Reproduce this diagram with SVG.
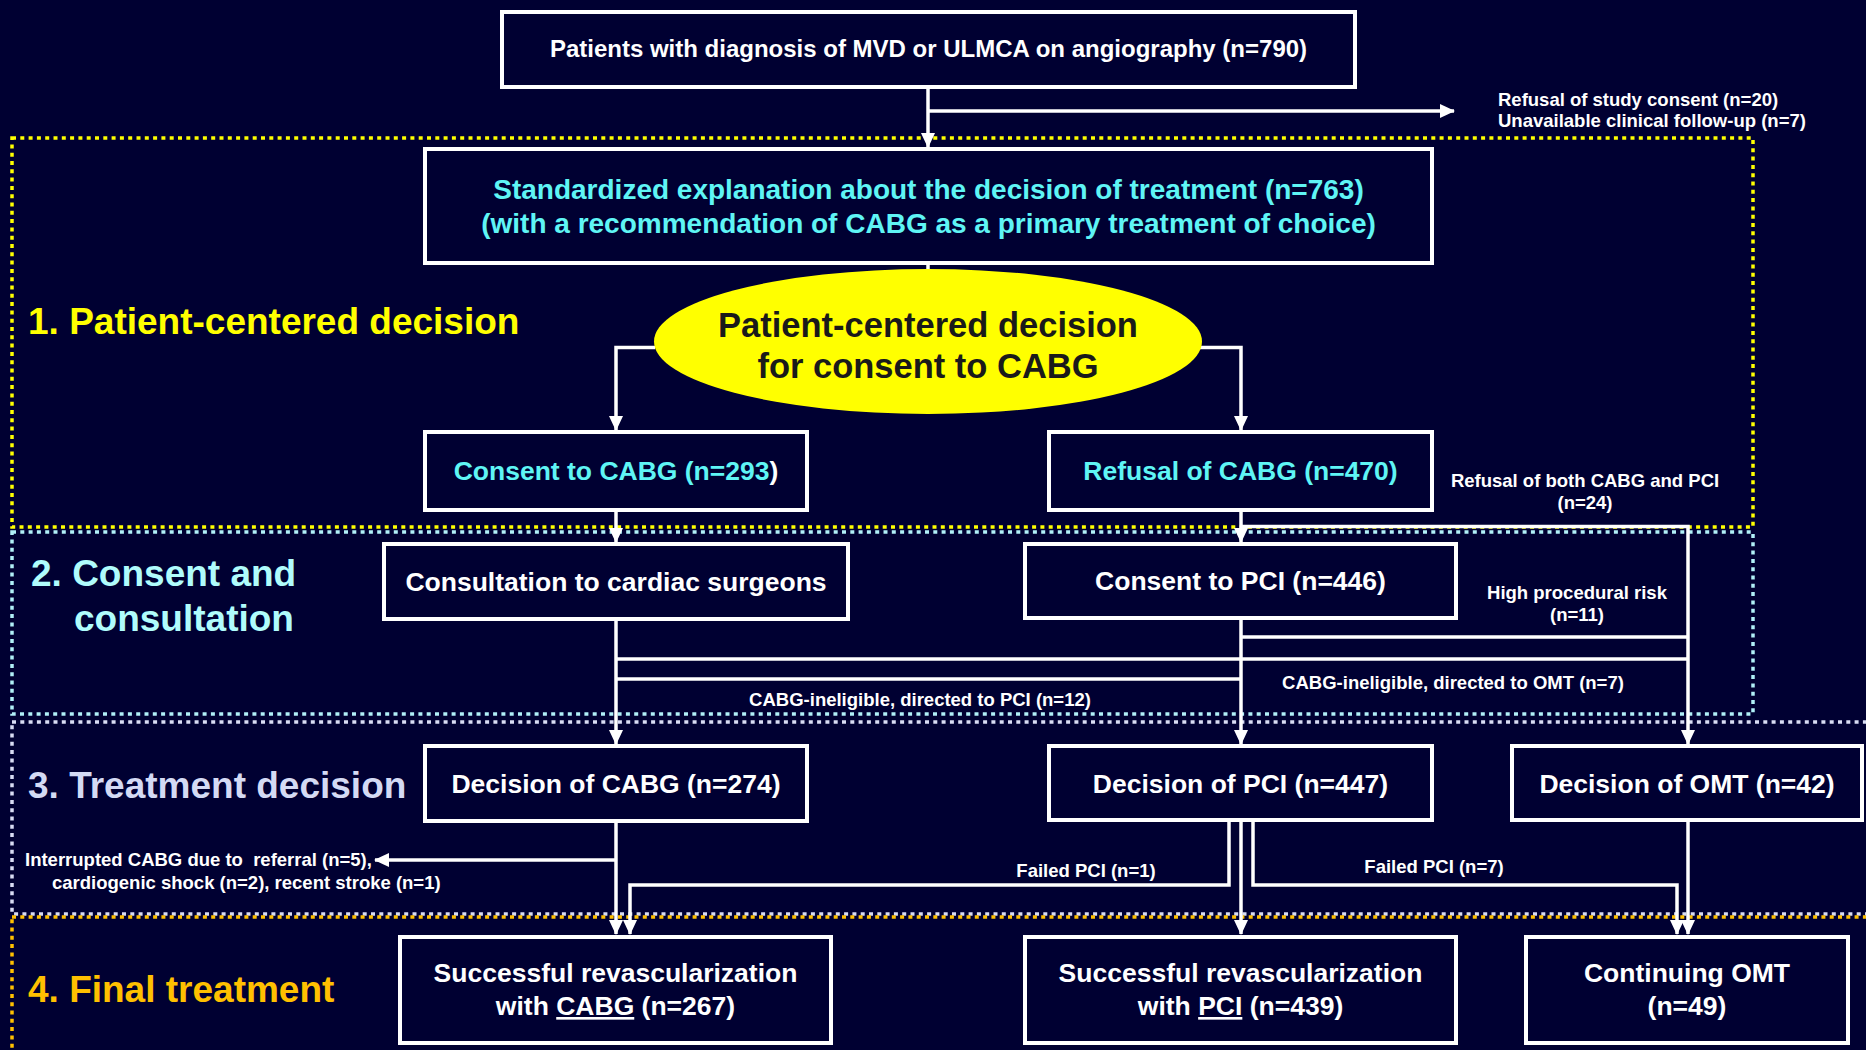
<svg xmlns="http://www.w3.org/2000/svg" width="1866" height="1050" viewBox="0 0 1866 1050">
<style>
text{font-family:"Liberation Sans",Arial,sans-serif;font-weight:bold}
.box{fill:#000032;stroke:#ffffff;stroke-width:4}
.t{fill:#ffffff;font-size:26.5px;text-anchor:middle}
.c{fill:#5ff5f5;font-size:26.5px;text-anchor:middle}
.s{fill:#ffffff;font-size:18.5px}
.sm{fill:#ffffff;font-size:18.5px;text-anchor:middle}
.lab{font-size:37px}
.conn{fill:none;stroke:#ffffff;stroke-width:3.5}
.reg{fill:none;stroke-width:3.5;stroke-dasharray:4 4.3}
</style>
<defs>
<marker id="ah" markerUnits="userSpaceOnUse" markerWidth="15" markerHeight="14" viewBox="0 0 15 14" refX="14" refY="7" orient="auto">
<path d="M0,0 L15,7 L0,14 Z" fill="#ffffff"/>
</marker>
</defs>
<rect x="0" y="0" width="1866" height="1050" fill="#000032"/>

<g id="regions">
<rect class="reg" x="12" y="138" width="1741" height="389" stroke="#ffff00"/>
<rect class="reg" x="12" y="532" width="1741" height="182" stroke="#b0f0f8"/>
<rect class="reg" x="12" y="722" width="1870" height="192" stroke="#d8dcf4"/>
<rect class="reg" x="12" y="917" width="1870" height="150" stroke="#ffc000"/>
</g>

<g id="stage-labels">
<text class="lab" x="28" y="334" fill="#ffff00">1. Patient-centered decision</text>
<text class="lab" x="31" y="586" fill="#b0fcfc">2. Consent and</text>
<text class="lab" x="74" y="631" fill="#b0fcfc">consultation</text>
<text class="lab" x="28" y="798" fill="#d4daf4">3. Treatment decision</text>
<text class="lab" x="28" y="1002" fill="#ffc000">4. Final treatment</text>
</g>

<g id="connectors">
<path class="conn" d="M928,86 V147" marker-end="url(#ah)"/>
<path class="conn" d="M928,111 H1454" marker-end="url(#ah)"/>
<path class="conn" d="M928,263 V270"/>
<path class="conn" d="M655,347.5 H616 V430" marker-end="url(#ah)"/>
<path class="conn" d="M1200,347.5 H1241 V430" marker-end="url(#ah)"/>
<path class="conn" d="M616,510 V542" marker-end="url(#ah)"/>
<path class="conn" d="M1241,510 V542" marker-end="url(#ah)"/>
<path class="conn" d="M1241,526.5 H1688 V744" marker-end="url(#ah)"/>
<path class="conn" d="M616,619 V744" marker-end="url(#ah)"/>
<path class="conn" d="M1241,618 V744" marker-end="url(#ah)"/>
<path class="conn" d="M1241,637 H1688"/>
<path class="conn" d="M616,659 H1688"/>
<path class="conn" d="M616,679 H1241"/>
<path class="conn" d="M616,821 V934" marker-end="url(#ah)"/>
<path class="conn" d="M616,860 H375" marker-end="url(#ah)"/>
<path class="conn" d="M1229,820 V885 H630 V934" marker-end="url(#ah)"/>
<path class="conn" d="M1241,820 V934" marker-end="url(#ah)"/>
<path class="conn" d="M1253,820 V885 H1677 V934" marker-end="url(#ah)"/>
<path class="conn" d="M1688,820 V934" marker-end="url(#ah)"/>
</g>

<g id="edge-labels">
<text class="s" x="1498" y="106">Refusal of study consent (n=20)</text>
<text class="s" x="1498" y="127">Unavailable clinical follow-up (n=7)</text>
<text class="sm" x="1585" y="487">Refusal of both CABG and PCI</text>
<text class="sm" x="1585" y="509">(n=24)</text>
<text class="sm" x="1577" y="599">High procedural risk</text>
<text class="sm" x="1577" y="621">(n=11)</text>
<text class="sm" x="1453" y="689">CABG-ineligible, directed to OMT (n=7)</text>
<text class="sm" x="920" y="706">CABG-ineligible, directed to PCI (n=12)</text>
<text class="s" x="25" y="866" xml:space="preserve">Interrupted CABG due to  referral (n=5),</text>
<text class="s" x="52" y="889">cardiogenic shock (n=2), recent stroke (n=1)</text>
<text class="sm" x="1086" y="877">Failed PCI (n=1)</text>
<text class="sm" x="1434" y="873">Failed PCI (n=7)</text>
</g>

<g id="n-patients">
<rect class="box" x="502" y="12" width="853" height="75"/>
<text class="t" x="928.5" y="57" style="font-size:24px">Patients with diagnosis of MVD or ULMCA on angiography (n=790)</text>
</g>

<g id="n-explanation">
<rect class="box" x="425" y="149" width="1007" height="114"/>
<text class="c" x="928.5" y="199" style="font-size:28px">Standardized explanation about the decision of treatment (n=763)</text>
<text class="c" x="928.5" y="233" style="font-size:28px">(with a recommendation of CABG as a primary treatment of choice)</text>
</g>

<g id="n-decision">
<ellipse cx="928" cy="341.5" rx="274" ry="72.5" fill="#ffff00"/>
<text x="928" y="337" text-anchor="middle" fill="#1a1a1a" style="font-size:34.5px">Patient-centered decision</text>
<text x="928" y="378" text-anchor="middle" fill="#1a1a1a" style="font-size:34.5px">for consent to CABG</text>
</g>

<g id="n-consent-cabg">
<rect class="box" x="425" y="432" width="382" height="78"/>
<text class="c" x="616" y="480">Consent to CABG (n=293<tspan fill="#ffffff">)</tspan></text>
</g>

<g id="n-refusal-cabg">
<rect class="box" x="1049" y="432" width="383" height="78"/>
<text class="c" x="1240.5" y="480">Refusal of CABG (n=470)</text>
</g>

<g id="n-consultation">
<rect class="box" x="384" y="544" width="464" height="75"/>
<text class="t" x="616" y="591">Consultation to cardiac surgeons</text>
</g>

<g id="n-consent-pci">
<rect class="box" x="1025" y="544" width="431" height="74"/>
<text class="t" x="1240.5" y="590">Consent to PCI (n=446)</text>
</g>

<g id="n-dec-cabg">
<rect class="box" x="425" y="746" width="382" height="75"/>
<text class="t" x="616" y="793">Decision of CABG (n=274)</text>
</g>

<g id="n-dec-pci">
<rect class="box" x="1049" y="746" width="383" height="74"/>
<text class="t" x="1240.5" y="793">Decision of PCI (n=447)</text>
</g>

<g id="n-dec-omt">
<rect class="box" x="1512" y="746" width="350" height="74"/>
<text class="t" x="1687" y="793">Decision of OMT (n=42)</text>
</g>

<g id="n-final-cabg">
<rect class="box" x="400" y="937" width="431" height="106"/>
<text class="t" x="615.5" y="982">Successful revascularization</text>
<text class="t" x="615.5" y="1015">with <tspan text-decoration="underline">CABG</tspan> (n=267)</text>
</g>

<g id="n-final-pci">
<rect class="box" x="1025" y="937" width="431" height="106"/>
<text class="t" x="1240.5" y="982">Successful revascularization</text>
<text class="t" x="1240.5" y="1015">with <tspan text-decoration="underline">PCI</tspan> (n=439)</text>
</g>

<g id="n-final-omt">
<rect class="box" x="1526" y="937" width="322" height="106"/>
<text class="t" x="1687" y="982">Continuing OMT</text>
<text class="t" x="1687" y="1015">(n=49)</text>
</g>
</svg>
